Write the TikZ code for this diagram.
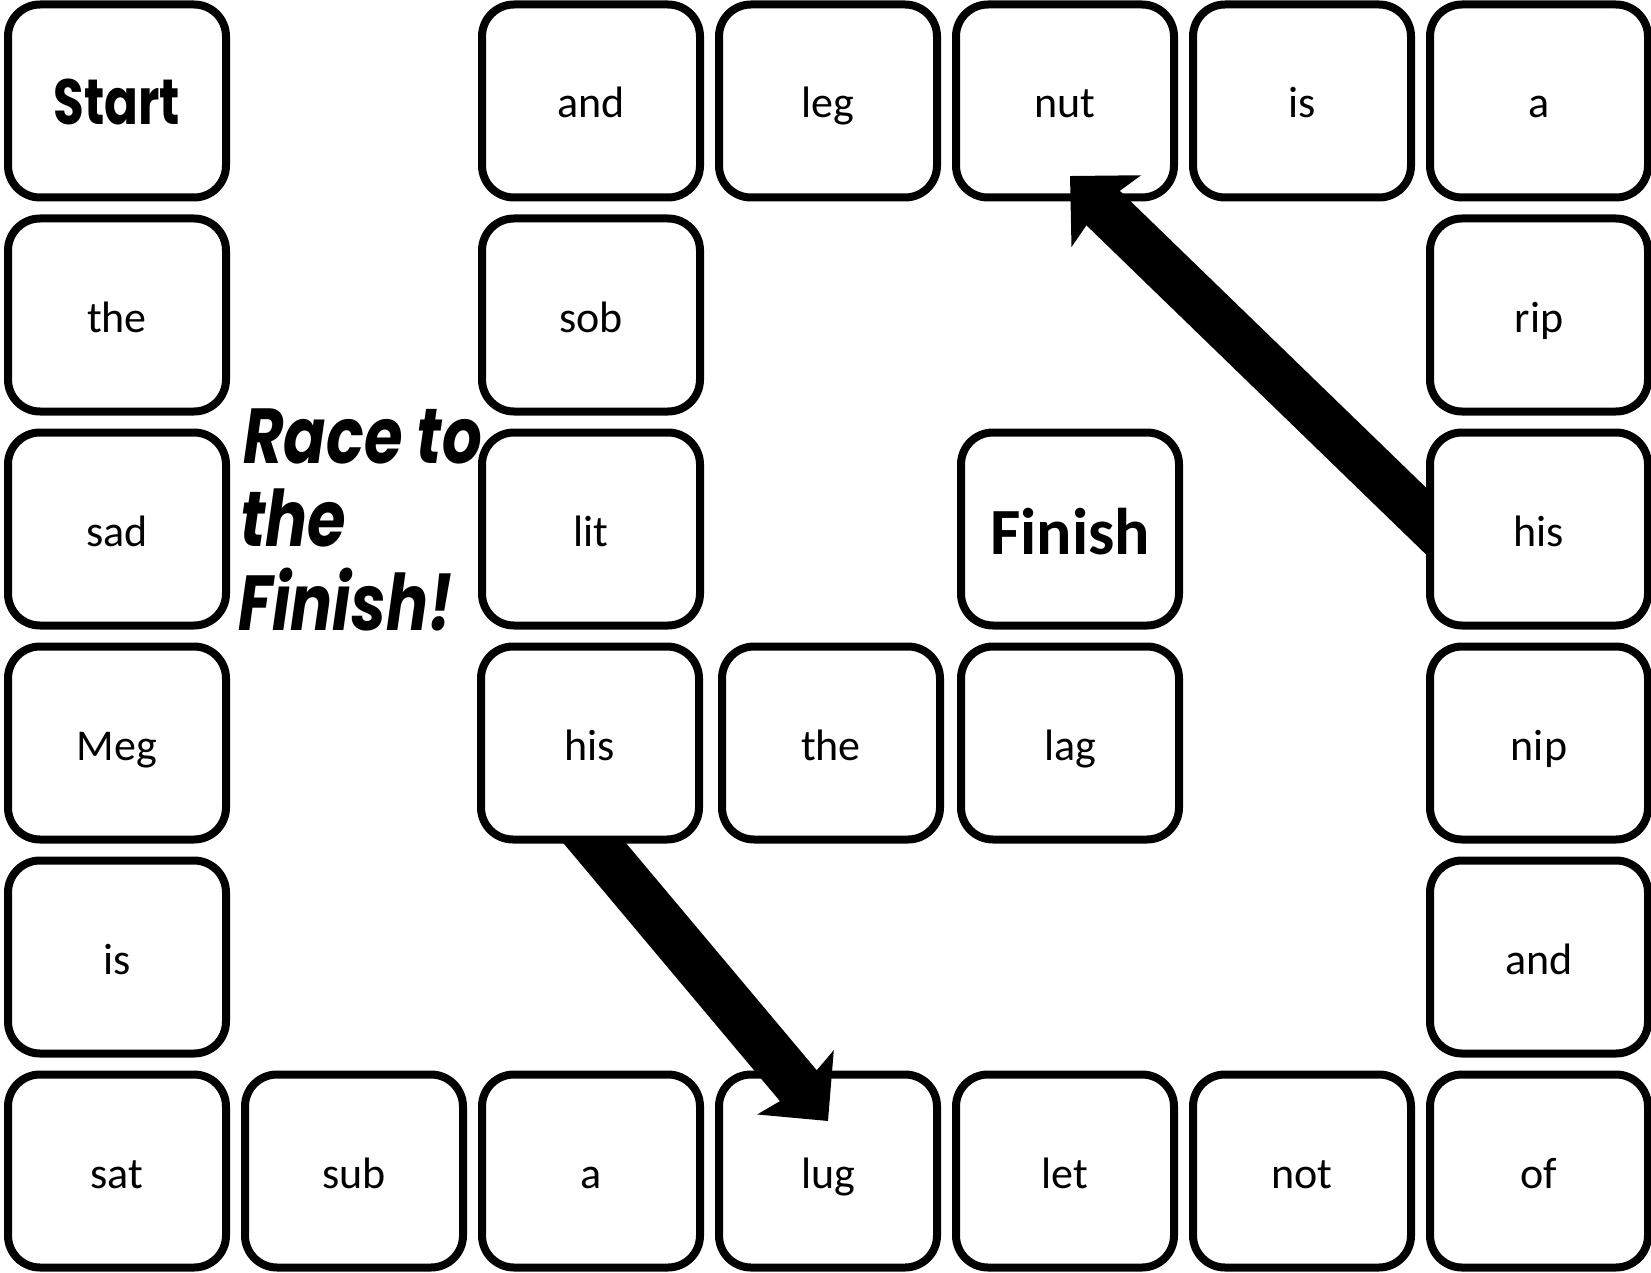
\documentclass[tikz,border=0pt]{standalone}
\usepackage{fontspec}
\setmainfont{Carlito}
\newfontfamily\startfont[FakeStretch=0.78]{Poppins}
\newfontfamily\racefont[FakeStretch=0.8]{Poppins}
\usetikzlibrary{calc,arrows.meta,positioning}

\begin{document}
\begin{tikzpicture}[x=1pt, y=-1pt,
  square/.style={draw, line width=8pt, rounded corners=32pt, fill=white,
    minimum width=218pt, minimum height=193pt, inner sep=0pt,
    font=\fontsize{44}{44}\selectfont, text height=34pt, text depth=0pt},
  bigword/.style={square, text height=48pt},
  bigarrow/.style={line width=48pt, -{Stealth[length=50pt, width=98pt, inset=8pt]}},
  race/.style={anchor=base west, inner sep=0pt,
    font=\racefont\bfseries\itshape\fontsize{78}{78}\selectfont}]

  \useasboundingbox (0,0) rectangle (1651,1273);

  % top row
  \node[bigword, font=\startfont\bfseries\fontsize{64}{64}\selectfont] (start) at (117,101) {Start};
  \node[square] (and1) at (591,101) {and}; \node[square] (leg) at (828,101) {leg};
  \node[square] (nut) at (1065,101) {nut}; \node[square] (is1) at (1302,101) {is};
  \node[square] (a1) at (1539,101) {a};

  % sides and middle
  \node[square] (the1) at (117,315) {the}; \node[square] (sob) at (591,315) {sob};
  \node[square] (rip) at (1539,315) {rip};
  \node[square] (sad) at (117,529) {sad}; \node[square] (lit) at (591,529) {lit};
  \node[bigword, text height=50pt, font=\bfseries\fontsize{66}{66}\selectfont] (finish) at (1070,529) {Finish};
  \node[square] (hisR) at (1539,529) {his};
  \node[square] (meg) at (117,743) {Meg}; \node[square] (hisL) at (590,743) {his};
  \node[square] (the2) at (831,743) {the}; \node[square] (lag) at (1070,743) {lag};
  \node[square] (nip) at (1539,743) {nip};
  \node[square] (is2) at (117,957) {is}; \node[square] (and2) at (1539,957) {and};

  % bottom row
  \node[square] (sat) at (117,1171) {sat}; \node[square] (sub) at (354,1171) {sub};
  \node[square] (a2) at (591,1171) {a}; \node[square] (lug) at (828,1171) {lug};
  \node[square] (let) at (1065,1171) {let}; \node[square] (not) at (1302,1171) {not};
  \node[square] (of) at (1539,1171) {of};

  % arrows
  \begin{scope}
    \clip (hisL.south west) rectangle (lug.south east);
    \draw[bigarrow, shorten <=-60pt] ($(hisL.south)+(5,0)$) -- ($(lug.center)+(0,-50)$);
  \end{scope}
  \begin{scope}
    \clip (nut.north west) rectangle (hisR.south west);
    \draw[bigarrow, shorten <=-60pt] ($(hisR.west)+(0,-8)$) -- ($(nut.center)+(5,75)$);
  \end{scope}

  % title
  \node[race] (race) at (243,463) {Race to};
  \node[race] (thetitle) at (240,546) {the};
  \node[race] (fin) at (238,630) {Finish!};
\end{tikzpicture}
\end{document}
